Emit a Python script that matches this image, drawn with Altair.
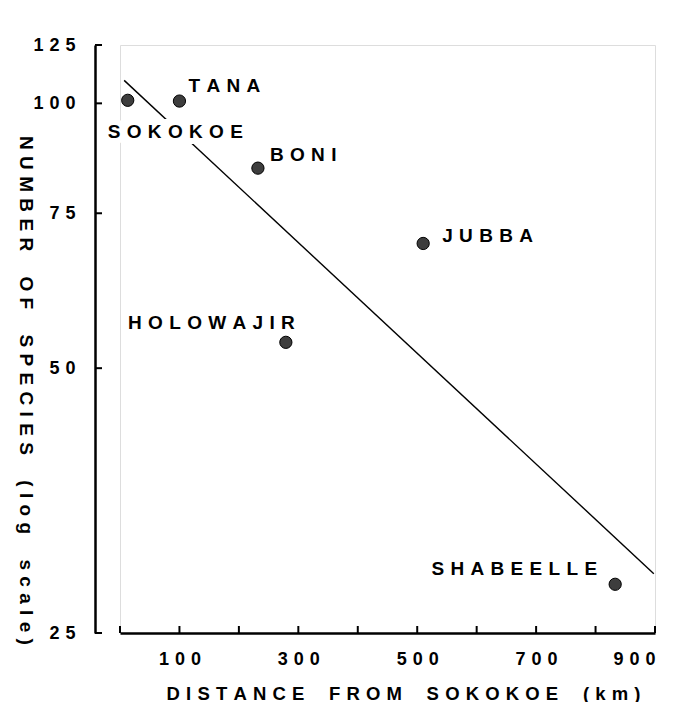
import altair as alt
import pandas as pd

# ---------------- data ----------------
sites = ["SOKOKOE", "TANA", "BONI", "JUBBA", "HOLOWAJIR", "SHABEELLE"]
distance_km = [13, 100, 232, 510, 279, 833]
species = [100.8, 100.6, 84.4, 69.3, 53.5, 28.4]

fit_distance = [7, 898]
fit_species = [106.2, 29.2]

x_tick_values = [0, 100, 200, 300, 400, 500, 600, 700, 800, 900]
x_label_values = [100, 300, 500, 700, 900]
y_tick_values = [25, 50, 75, 100]
y_axis_top = 116.5
y_axis_top_label = "125"

x_title = "DISTANCE FROM SOKOKOE (km)"
y_title = "NUMBER OF SPECIES (log scale)"

# ---------------- styling ----------------
LS = "\u2004"            # letter gap (1/3 em)
WS = "\u2003\u2004"      # word gap
FONT = "Liberation Sans"


def spaced(s):
    return WS.join(LS.join(w) for w in s.split(" "))


label_style = {
    "SOKOKOE": ("left", -20, 32),
    "TANA": ("left", 9, -15),
    "BONI": ("left", 12, -13),
    "JUBBA": ("left", 19, -7),
    "HOLOWAJIR": ("right", 9, -19),
    "SHABEELLE": ("right", -18, -15),
}

W, H = 535, 588
Y_OFFSET = 25
TICK_LEN = 7

pts = pd.DataFrame({
    "site": sites,
    "label": [spaced(s) for s in sites],
    "distance": distance_km,
    "species": species,
})
fit = pd.DataFrame({"distance": fit_distance, "species": fit_species})
xt = pd.DataFrame({"v": x_tick_values})
yt = pd.DataFrame({"v": y_tick_values + [y_axis_top]})

x_scale = alt.Scale(domain=[0, 900], nice=False, zero=False)
y_scale = alt.Scale(type="log", domain=[25, y_axis_top], nice=False)

spaced_top = LS.join(y_axis_top_label)

x_axis = alt.Axis(
    values=x_label_values, ticks=False, tickSize=0, grid=False,
    domainColor="black", domainWidth=2.5,
    labelFont=FONT, labelFontWeight="bold", labelFontSize=18, labelColor="black",
    labelPadding=17,
    labelExpr=f"join(split(datum.label, ''), '{LS}')",
    title=spaced(x_title), titleFont=FONT, titleFontSize=18.5, titleFontWeight="bold",
    titleColor="black", titleX=283, titleY=60, titleAlign="center", titleBaseline="middle",
)
y_axis = alt.Axis(
    values=y_tick_values + [y_axis_top], ticks=False, tickSize=0, grid=False,
    domainColor="black", domainWidth=2.5, offset=Y_OFFSET, format="d",
    labelFont=FONT, labelFontWeight="bold", labelFontSize=18, labelColor="black",
    labelPadding=20,
    labelExpr=f"datum.value > 110 ? '{spaced_top}' : join(split(datum.label, ''), '{LS}')",
    title=spaced(y_title), titleFont=FONT, titleFontSize=19, titleFontWeight="bold",
    titleColor="black", titleAngle=90, titleX=-70, titleY=345,
    titleAlign="center", titleBaseline="middle",
)

fit_line = alt.Chart(fit).mark_line(color="black", strokeWidth=1.4).encode(
    x=alt.X("distance:Q", scale=x_scale, axis=x_axis),
    y=alt.Y("species:Q", scale=y_scale, axis=y_axis),
)

x_ticks = alt.Chart(xt).mark_rule(color="black", strokeWidth=2).encode(
    x=alt.X("v:Q", scale=x_scale),
    y=alt.value(H),
    y2=alt.value(H - TICK_LEN),
)

y_ticks = alt.Chart(yt).mark_rule(color="black", strokeWidth=2).encode(
    y=alt.Y("v:Q", scale=y_scale),
    x=alt.value(-Y_OFFSET),
    x2=alt.value(-Y_OFFSET + TICK_LEN),
)

halos = []
texts = []
for s in sites:
    align, dx, dy = label_style[s]
    common = dict(align=align, dx=dx, dy=dy, baseline="middle", font=FONT,
                  fontSize=19, fontWeight="bold")
    enc = dict(x=alt.X("distance:Q", scale=x_scale),
               y=alt.Y("species:Q", scale=y_scale), text="label:N")
    halos.append(
        alt.Chart(pts).transform_filter(alt.datum.site == s)
        .mark_text(fill="white", stroke="white", strokeWidth=12, **common)
        .encode(**enc)
    )
    texts.append(
        alt.Chart(pts).transform_filter(alt.datum.site == s)
        .mark_text(color="black", **common)
        .encode(**enc)
    )

points = alt.Chart(pts).mark_circle(
    size=150, color="#3d3d3d", opacity=1, stroke="black", strokeWidth=1
).encode(
    x=alt.X("distance:Q", scale=x_scale),
    y=alt.Y("species:Q", scale=y_scale),
)

chart = alt.layer(fit_line, x_ticks, y_ticks, *halos, *texts, points).properties(
    width=W, height=H,
    autosize=alt.AutoSizeParams(type="none"),
    padding={"left": 112, "top": 37, "right": 18, "bottom": 69},
).configure_view(stroke=None).configure(background="white")

chart.save("out.html", embed_options={"renderer": "svg", "actions": False})
